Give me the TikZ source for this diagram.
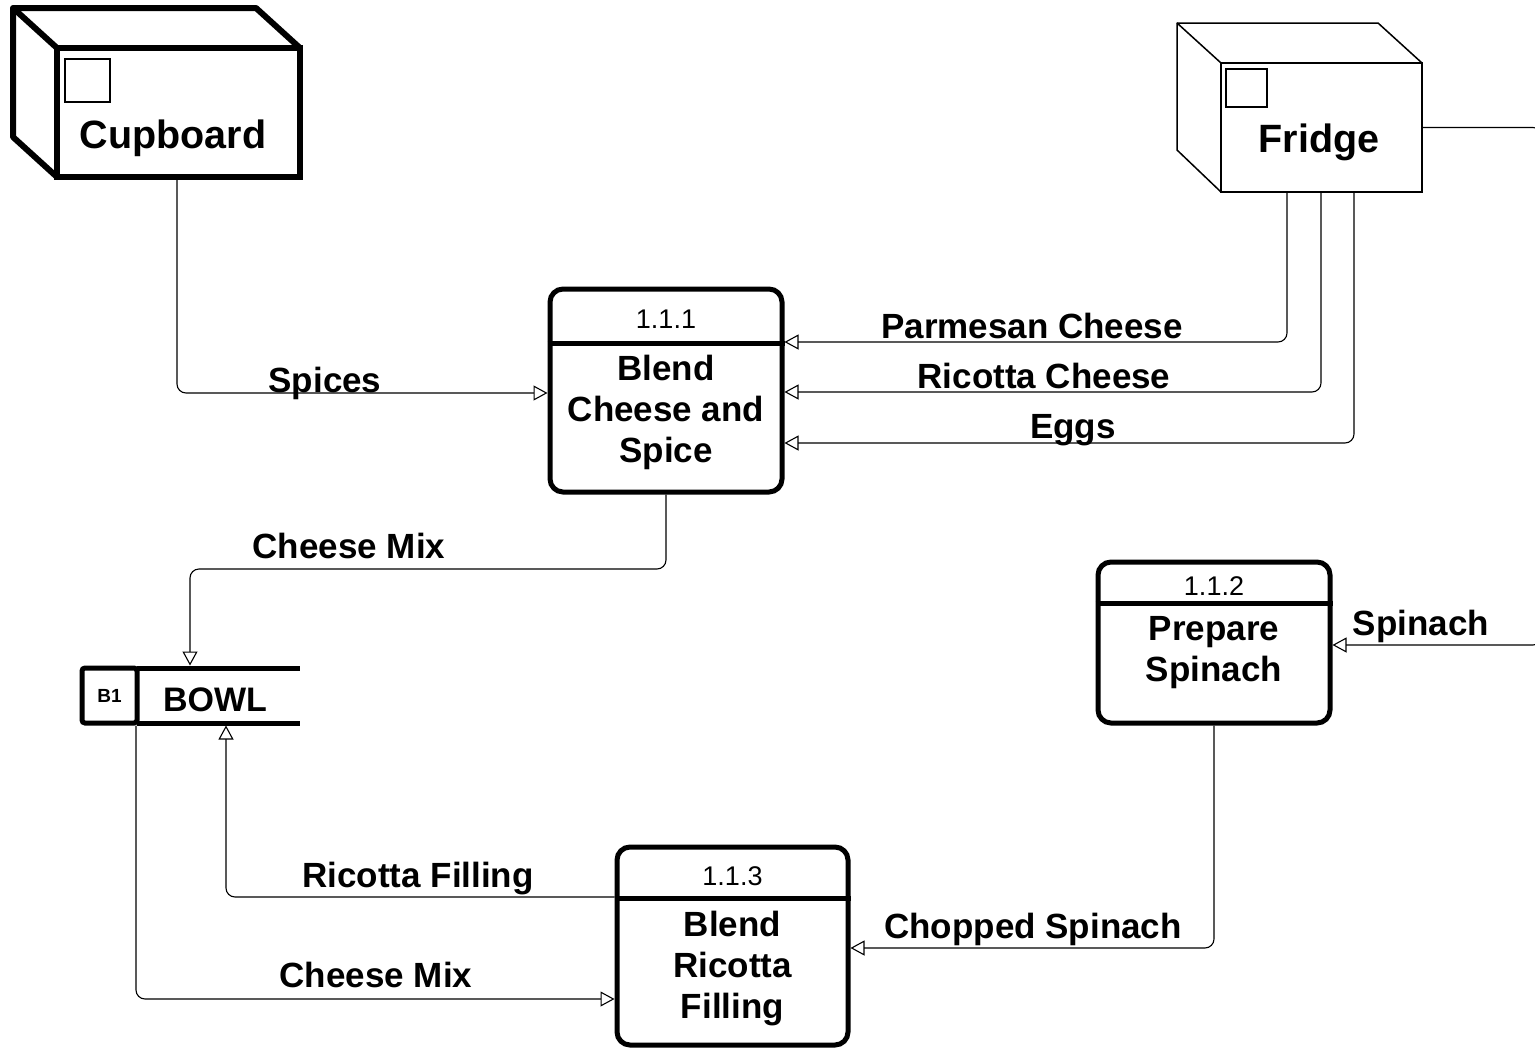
\documentclass[tikz,border=0pt]{standalone}
\usepackage{fontspec}
\setmainfont{Liberation Sans}
\usetikzlibrary{arrows.meta}
\begin{document}
\begin{tikzpicture}[x=1pt,y=-1pt,
  flow/.style={draw, line width=1.1pt, rounded corners=9pt, -{Triangle[open,length=14pt,width=15pt]}},
  proc/.style={draw, line width=5pt, rounded corners=13pt, inner sep=0pt},
  ent/.style={draw, inner sep=0pt, outer sep=0pt},
  lbl/.style={font=\bfseries\fontsize{35}{40}\selectfont, anchor=base, inner sep=0pt},
  ptx/.style={font=\bfseries\fontsize{35}{40}\selectfont, anchor=base, inner sep=0pt},
  num/.style={font=\fontsize{27}{30}\selectfont, anchor=base, inner sep=0pt},
  enttx/.style={font=\bfseries\fontsize{39.5}{44}\selectfont, anchor=base, inner sep=0pt},
  divider/.style={line width=5pt}
]
\useasboundingbox (0,0) rectangle (1535,1052);

% ---------- Cupboard ----------
\node[ent, line width=6pt, minimum width=243pt, minimum height=129pt] (cup) at (178.5,112.5) {};
\draw[line width=6pt, line join=round] (cup.south west) -- ++(-44,-40) -- ++(0,-129) -- ++(243,0) -- (cup.north east);
\draw[line width=6pt, line join=round] (cup.north west) -- ++(-44,-40);
\draw[line width=1.5pt] (65,59) rectangle (110,102);
\node[enttx] (cuptxt) at (173,148) {Cupboard};

% ---------- Fridge ----------
\node[ent, line width=1.5pt, minimum width=201pt, minimum height=129pt] (fridge) at (1321.5,127.5) {};
\draw[line width=1.5pt, line join=round] (fridge.south west) -- ++(-44,-42) -- ++(0,-127) -- ++(201,0) -- (fridge.north east);
\draw[line width=1.5pt] (fridge.north west) -- ++(-44,-40);
\draw[line width=1.5pt] (1226,69) rectangle (1267,107);
\node[enttx] (fridgetxt) at (1319,152) {Fridge};

% ---------- Process 1.1.1 ----------
\node[proc, minimum width=232pt, minimum height=203pt] (p1) at (666,390.5) {};
\draw[divider] (p1.west |- 0,343) -- (p1.east |- 0,343);
\node[num] (p1n) at (666,328) {1.1.1};
\node[ptx] (p1a) at (666,380) {Blend};
\node[ptx] (p1b) at (666,421) {Cheese and};
\node[ptx] (p1c) at (666,462) {Spice};

% ---------- Process 1.1.2 ----------
\node[proc, minimum width=232pt, minimum height=161pt] (p2) at (1214,642.5) {};
\draw[divider] (p2.west |- 0,603) -- (p2.east |- 0,603);
\node[num] (p2n) at (1214,595) {1.1.2};
\node[ptx] (p2a) at (1214,640) {Prepare};
\node[ptx] (p2b) at (1214,681) {Spinach};

% ---------- Process 1.1.3 ----------
\node[proc, minimum width=231pt, minimum height=198pt] (p3) at (732.5,946) {};
\draw[divider] (p3.west |- 0,898) -- (p3.east |- 0,898);
\node[num] (p3n) at (732.5,885) {1.1.3};
\node[ptx] (p3a) at (732.5,936) {Blend};
\node[ptx] (p3b) at (732.5,977) {Ricotta};
\node[ptx] (p3c) at (732.5,1018) {Filling};

% ---------- Data store BOWL ----------
\node[draw, line width=5pt, rounded corners=3pt, minimum width=55pt, minimum height=55pt, inner sep=0pt,
      font=\bfseries\fontsize{19}{22}\selectfont] (b1) at (109.5,695.5) {B1};
\node[inner sep=0pt, outer sep=2.5pt, minimum width=163pt, minimum height=55pt] (bowl) at (218.5,695.5) {};
\draw[line width=5pt] (137,668) -- (300,668);
\draw[line width=5pt] (137,723) -- (300,723);
\node[font=\bfseries\fontsize{34}{40}\selectfont, anchor=base, inner sep=0pt] (bowltxt) at (215,711) {BOWL};

% ---------- Flows ----------
\draw[flow] (177,0 |- cup.south) -- (177,393) -- (p1.west |- 0,393);
\node[lbl] (lspices) at (325,392) {Spices};

\draw[flow] (1287,0 |- fridge.south) -- (1287,342) -- (p1.east |- 0,342);
\node[lbl] (lparm) at (1032,338) {Parmesan Cheese};

\draw[flow] (1321,0 |- fridge.south) -- (1321,392) -- (p1.east |- 0,392);
\node[lbl] (lric) at (1044,388) {Ricotta Cheese};

\draw[flow] (1354,0 |- fridge.south) -- (1354,443) -- (p1.east |- 0,443);
\node[lbl] (leggs) at (1073,438) {Eggs};

\draw[flow] (p1.south) -- (666,569) -- (190,569) -- (190,0 |- bowl.north);
\node[lbl] (lcm1) at (349,558) {Cheese Mix};

\draw[flow] (fridge.east) -- (1542,127.5) -- (1542,645) -- (p2.east |- 0,645);
\node[lbl] (lspin) at (1421,635) {Spinach};

\draw[flow] (p2.south) -- (1214,948) -- (p3.east |- 0,948);
\node[lbl] (lchop) at (1033,938) {Chopped Spinach};

\draw[flow] (p3.west |- 0,897) -- (226,897) -- (226,0 |- bowl.south);
\node[lbl] (lrf) at (418,887) {Ricotta Filling};

\draw[flow] (136,0 |- bowl.south) -- (136,999) -- (p3.west |- 0,999);
\node[lbl] (lcm2) at (376,987) {Cheese Mix};
\end{tikzpicture}
\end{document}
